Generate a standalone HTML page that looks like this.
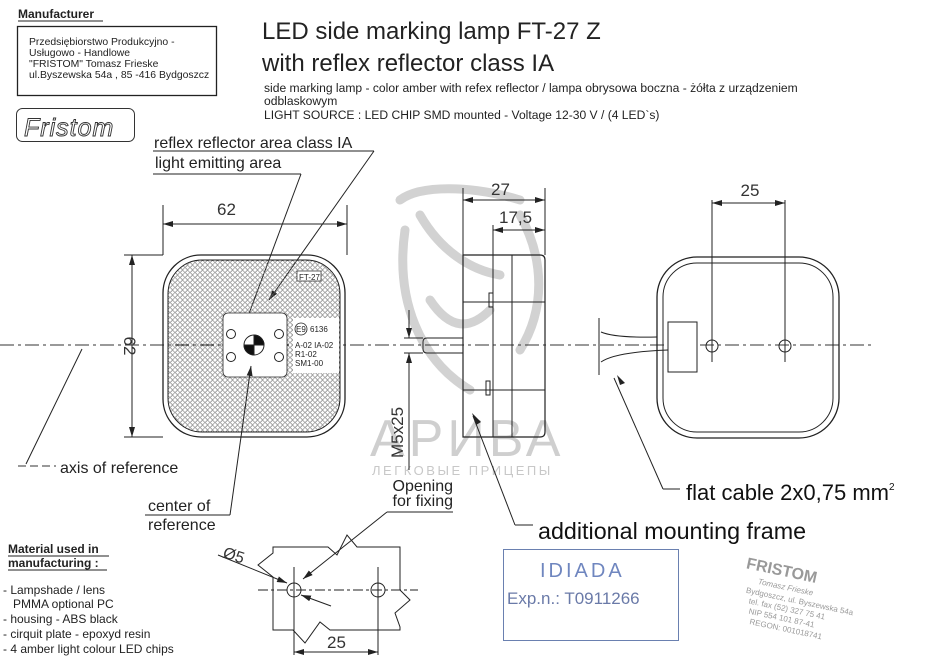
<!DOCTYPE html>
<html><head><meta charset="utf-8"><style>
html,body{margin:0;padding:0;background:#fff}
svg{display:block}
text{font-family:"Liberation Sans",sans-serif}
</style></head><body>
<svg width="937" height="666" viewBox="0 0 937 666" xmlns="http://www.w3.org/2000/svg">
<defs>
<marker id="a" viewBox="0 0 10 6" refX="10" refY="3" markerWidth="10" markerHeight="6" orient="auto-start-reverse" markerUnits="userSpaceOnUse"><path d="M0,0 L10,3 L0,6 Z" fill="#222"/></marker>
<pattern id="hex" width="5" height="5" patternUnits="userSpaceOnUse"><circle cx="2.5" cy="2.5" r="1.8" fill="none" stroke="#666" stroke-width="0.6"/></pattern>
</defs>
<rect width="937" height="666" fill="#fff"/>

<g stroke="#d2d2d2" stroke-width="9" fill="none" stroke-linecap="round">
<path d="M400,200 C420,185 470,185 520,200"/>
<path d="M405,230 C395,300 420,360 470,390"/>
<path d="M420,215 C440,250 470,270 500,275"/>
<path d="M520,215 C545,260 545,310 520,350"/>
<path d="M430,300 C450,330 470,330 490,310"/>
</g>
<text x="370" y="456" font-size="52" fill="#cfcfcf" letter-spacing="4">АРИВА</text>
<text x="372" y="475" font-size="13" fill="#c8c8c8" letter-spacing="2.5">ЛЕГКОВЫЕ ПРИЦЕПЫ</text>

<text x="18" y="18" font-size="12" font-weight="bold" fill="#222">Manufacturer</text>
<line x1="18" y1="21" x2="103" y2="21" stroke="#222" stroke-width="1"/>
<rect x="17.5" y="26.5" width="199" height="69" fill="none" stroke="#222" stroke-width="1.3"/>
<g font-size="10.4" fill="#222">
<text x="29" y="45">Przedsiębiorstwo Produkcyjno -</text>
<text x="29" y="56">Usługowo - Handlowe</text>
<text x="29" y="67">"FRISTOM" Tomasz Frieske</text>
<text x="29" y="78">ul.Byszewska 54a , 85 -416 Bydgoszcz</text>
</g>
<rect x="16.5" y="108.5" width="118" height="33" rx="6" fill="none" stroke="#333" stroke-width="1"/>
<text x="24" y="136" font-size="25" font-style="italic" fill="#fff" stroke="#333" stroke-width="0.9" letter-spacing="1">Fristom</text>

<text x="262" y="39" font-size="24" fill="#222">LED side marking lamp FT-27 Z</text>
<text x="262" y="71" font-size="24" fill="#222">with reflex reflector  class IA</text>
<g font-size="12.1" fill="#222">
<text x="264" y="92">side marking lamp - color amber with refex reflector / lampa obrysowa boczna - żółta z  urządzeniem</text>
<text x="264" y="105">odblaskowym</text>
<text x="264" y="119">LIGHT SOURCE : LED CHIP SMD mounted - Voltage 12-30 V / (4 LED`s)</text>
</g>

<text x="154" y="148" font-size="16" fill="#222">reflex reflector area class IA</text>
<line x1="153" y1="151" x2="374" y2="151" stroke="#222"/>
<line x1="374" y1="151" x2="269" y2="300" stroke="#222" marker-end="url(#a)"/>
<text x="155" y="168" font-size="16" fill="#222">light emitting area</text>
<line x1="153" y1="174" x2="301" y2="174" stroke="#222"/>
<line x1="301" y1="174" x2="244" y2="327" stroke="#222" marker-end="url(#a)"/>

<line x1="0" y1="345" x2="875" y2="345" stroke="#333" stroke-dasharray="14,4,3,4"/>

<g stroke="#222" fill="none">
<line x1="163" y1="255" x2="163" y2="205"/>
<line x1="347" y1="255" x2="347" y2="205"/>
<line x1="163" y1="224" x2="347" y2="224" marker-start="url(#a)" marker-end="url(#a)"/>
<line x1="163" y1="255" x2="124" y2="255"/>
<line x1="163" y1="437" x2="124" y2="437"/>
<line x1="132" y1="255" x2="132" y2="437" marker-start="url(#a)" marker-end="url(#a)"/>
<rect x="163" y="255" width="182" height="182" rx="38" stroke-width="1.3"/>
<rect x="168" y="260" width="172" height="172" rx="34" fill="url(#hex)" stroke-width="1"/>
<rect x="223" y="313" width="64" height="64" rx="5" fill="#fff" stroke-width="0.8"/>
<circle cx="231" cy="334" r="4.5"/><circle cx="279" cy="334" r="4.5"/>
<circle cx="231" cy="357" r="4.5"/><circle cx="279" cy="357" r="4.5"/>
<circle cx="254" cy="345" r="10" fill="#fff"/>
<path d="M254,345 L254,335 A10,10 0 0 1 264,345 Z" fill="#111"/>
<path d="M254,345 L254,355 A10,10 0 0 1 244,345 Z" fill="#111"/>
<rect x="297" y="271" width="24" height="10" fill="#fff" stroke-width="0.7"/>
<rect x="293" y="318" width="46" height="55" fill="#fff" stroke="none"/>
<circle cx="301" cy="329" r="6" stroke-width="0.8"/>
</g>
<text x="217" y="215" font-size="17" fill="#333">62</text>
<text x="124" y="346" font-size="17" fill="#333" transform="rotate(90 124 346)" text-anchor="middle">62</text>
<text x="299" y="280" font-size="8" fill="#222">FT-27</text>
<text x="296" y="332" font-size="8" fill="#222">E9</text>
<text x="310" y="332" font-size="8" fill="#222">6136</text>
<g font-size="8" fill="#222">
<text x="295" y="348">A-02 IA-02</text><text x="295" y="357">R1-02</text><text x="295" y="366">SM1-00</text>
</g>

<line x1="18" y1="466" x2="56" y2="466" stroke="#333" stroke-dasharray="8,4"/>
<line x1="26" y1="464" x2="82" y2="349" stroke="#222"/>
<text x="60" y="473" font-size="16" fill="#222">axis of reference</text>

<text x="148" y="511" font-size="16" fill="#222">center of</text>
<text x="148" y="530" font-size="16" fill="#222">reference</text>
<line x1="145" y1="515" x2="230" y2="515" stroke="#222"/>
<line x1="230" y1="515" x2="251" y2="366" stroke="#222" marker-end="url(#a)"/>

<g stroke="#222" fill="none">
<path d="M463,255 H540 Q545,255 545,260 V432 Q545,437 540,437 H463 Z" stroke-width="1.2"/>
<line x1="493" y1="255" x2="493" y2="437"/>
<line x1="512" y1="255" x2="512" y2="437"/>
<line x1="463" y1="302" x2="545" y2="302"/>
<line x1="463" y1="390" x2="545" y2="390"/>
<rect x="489" y="293" width="4" height="14"/>
<rect x="486" y="381" width="4" height="14"/>
<path d="M463,338 H427 Q423,338 423,342 V349 Q423,353 427,353 H463"/>
<line x1="463" y1="255" x2="463" y2="188"/>
<line x1="545" y1="255" x2="545" y2="188"/>
<line x1="463" y1="200" x2="545" y2="200" marker-start="url(#a)" marker-end="url(#a)"/>
<line x1="493" y1="255" x2="493" y2="225"/>
<line x1="493" y1="230" x2="545" y2="230" marker-start="url(#a)" marker-end="url(#a)"/>
<line x1="404" y1="338" x2="423" y2="338"/>
<line x1="404" y1="353" x2="423" y2="353"/>
<line x1="409" y1="310" x2="409" y2="338" marker-end="url(#a)"/>
<line x1="409" y1="470" x2="409" y2="353" marker-end="url(#a)"/>
</g>
<text x="491" y="195" font-size="17" fill="#333">27</text>
<text x="499" y="223" font-size="17" fill="#333">17,5</text>
<text x="403" y="458" font-size="17" fill="#333" transform="rotate(-90 403 458)">M5x25</text>

<text x="453" y="491" font-size="16" fill="#222" text-anchor="end">Opening</text>
<text x="453" y="506" font-size="16" fill="#222" text-anchor="end">for fixing</text>
<line x1="453" y1="512" x2="387" y2="512" stroke="#222"/>
<line x1="387" y1="512" x2="303" y2="579" stroke="#222" marker-end="url(#a)"/>

<g stroke="#222" fill="none">
<path d="M273,547 H328 L337,555 L347,535 L357,547 H400 V590 L410,600 L395,613 L400,627 V630 H330 L320,622 L305,643 L293,630 H273 V577 L258,565 L273,553 Z"/>
<line x1="258" y1="590" x2="418" y2="590" stroke-dasharray="10,3,3,3"/>
<circle cx="294" cy="590" r="7"/>
<circle cx="378" cy="590" r="7"/>
<line x1="294" y1="567" x2="294" y2="655"/>
<line x1="378" y1="567" x2="378" y2="655"/>
<line x1="294" y1="652" x2="378" y2="652" marker-start="url(#a)" marker-end="url(#a)"/>
<line x1="218" y1="555" x2="287" y2="583" marker-end="url(#a)"/>
<line x1="331" y1="606" x2="301" y2="595" marker-end="url(#a)"/>
</g>
<text x="327" y="648" font-size="17" fill="#333">25</text>
<text x="222" y="557" font-size="16" fill="#333" transform="rotate(18 222 557)">Ø5</text>

<g font-size="12" fill="#222">
<text x="8" y="553" font-weight="bold">Material used in</text>
<text x="8" y="567" font-weight="bold">manufacturing :</text>
<text x="3" y="594">- Lampshade / lens</text>
<text x="13" y="608">PMMA optional PC</text>
<text x="3" y="623">- housing - ABS black</text>
<text x="3" y="638">- cirquit plate - epoxyd resin</text>
<text x="3" y="653">- 4 amber light colour LED chips</text>
</g>
<line x1="8" y1="556" x2="109" y2="556" stroke="#222"/>
<line x1="8" y1="570" x2="107" y2="570" stroke="#222"/>

<g stroke="#222" fill="none">
<rect x="657" y="257" width="182" height="181" rx="40" stroke-width="1.3"/>
<rect x="663" y="263" width="170" height="169" rx="34"/>
<rect x="668" y="322" width="29" height="50" fill="#fff"/>
<circle cx="712" cy="346" r="6"/>
<circle cx="785" cy="346" r="6"/>
<line x1="712" y1="200" x2="712" y2="362"/>
<line x1="785" y1="200" x2="785" y2="362"/>
<line x1="712" y1="203" x2="785" y2="203" marker-start="url(#a)" marker-end="url(#a)"/>
<path d="M601,332 Q615,338 657,337"/>
<path d="M601,362 Q615,352 668,350"/>
<line x1="599" y1="318" x2="599" y2="375"/>
<line x1="614" y1="378" x2="663" y2="489"/>
<line x1="663" y1="489" x2="680" y2="489"/>
<line x1="473" y1="416" x2="515" y2="525"/>
<line x1="515" y1="525" x2="533" y2="525"/>
</g>
<path d="M620,385 L617,375 L625,383 Z" fill="#222"/>
<path d="M476,425 L472,413 L481,422 Z" fill="#222"/>
<text x="750" y="196" font-size="17" fill="#333" text-anchor="middle">25</text>
<text x="686" y="500" font-size="22" fill="#111">flat cable 2x0,75 mm<tspan font-size="10" dy="-10">2</tspan></text>
<text x="538" y="539" font-size="23.3" fill="#111">additional mounting frame</text>

<rect x="503.5" y="549.5" width="175" height="91" fill="none" stroke="#6a80b0" stroke-width="1"/>
<text x="540" y="577" font-size="20" fill="#6f86bf" letter-spacing="3">IDIADA</text>
<text x="507" y="604" font-size="17" fill="#6a7aa8" font-family="Liberation Mono,monospace">Exp.n.: T0911266</text>
<g fill="#9a9a9a" font-size="8" transform="rotate(12 790 600)">
<text x="740" y="578" font-size="16" font-weight="bold" fill="#999">FRISTOM</text>
<text x="755" y="591" font-style="italic">Tomasz Frieske</text>
<text x="745" y="602">Bydgoszcz, ul. Byszewska 54a</text>
<text x="750" y="612">tel. fax (52) 327 75 41</text>
<text x="752" y="622">NIP 554 101 87-41</text>
<text x="755" y="632">REGON: 001018741</text>
</g>
</svg>
</body></html>
